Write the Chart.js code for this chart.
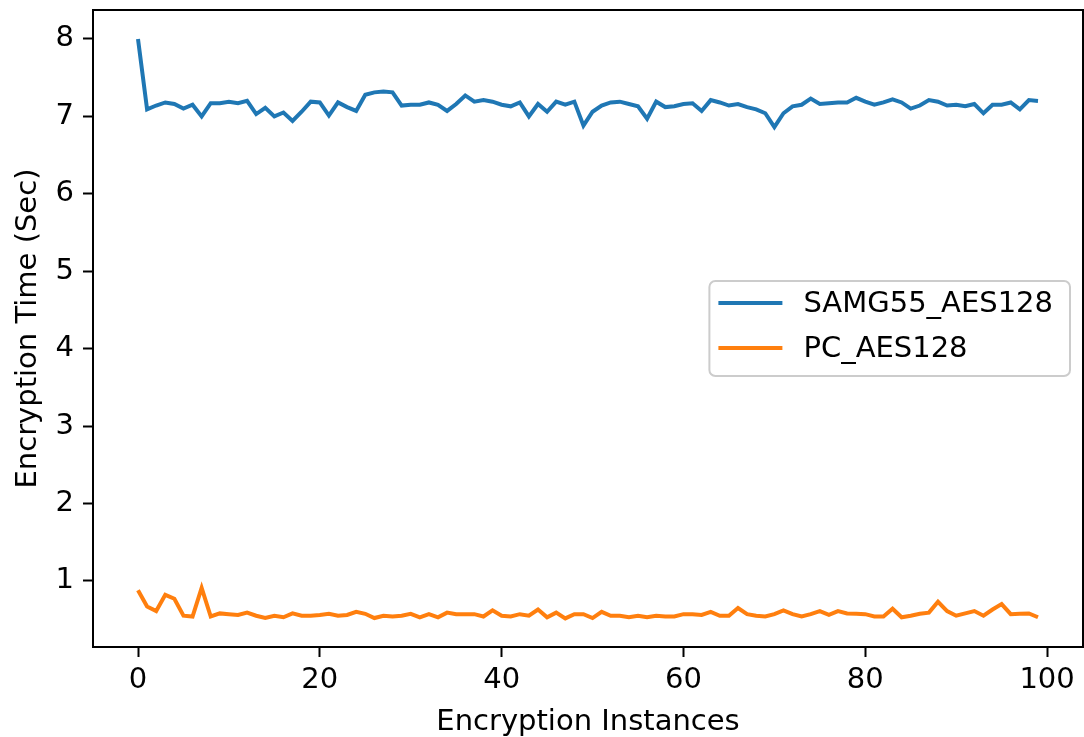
<!DOCTYPE html>
<html lang="en">
<head>
  <meta charset="UTF-8" />
  <title>Encryption Time</title>
  <script src="https://cdn.jsdelivr.net/npm/chart.js"></script>
  <style>
    body {
      margin: 0;
      background: white;
    }
    #wrap {
      width: 1084px;
      height: 737px;
    }
  </style>
</head>
<body>
  <div id="wrap"><canvas id="timeChart" width="1084" height="737"></canvas></div>

  <script>
    // encryption time per run, seconds
    const samg55Times = [
      8.00, 7.09, 7.14, 7.18, 7.16, 7.10, 7.15, 7.00, 7.17, 7.17,
      7.19, 7.17, 7.20, 7.03, 7.11, 7.00, 7.05, 6.94, 7.06, 7.19,
      7.18, 7.01, 7.18, 7.12, 7.07, 7.28, 7.31, 7.32, 7.31, 7.14,
      7.15, 7.15, 7.18, 7.15, 7.07, 7.16, 7.27, 7.19, 7.21, 7.19,
      7.15, 7.13, 7.18, 7.00, 7.16, 7.06, 7.19, 7.15, 7.19, 6.88,
      7.06, 7.14, 7.18, 7.19, 7.16, 7.13, 6.97, 7.19, 7.12, 7.13,
      7.16, 7.17, 7.07, 7.21, 7.18, 7.14, 7.16, 7.12, 7.09, 7.04,
      6.86, 7.04, 7.13, 7.15, 7.23, 7.16, 7.17, 7.18, 7.18, 7.24,
      7.19, 7.15, 7.18, 7.22, 7.18, 7.10, 7.14, 7.21, 7.19, 7.14,
      7.15, 7.13, 7.16, 7.04, 7.15, 7.15, 7.18, 7.09, 7.21, 7.20
    ];
    const pcTimes = [
      0.88, 0.67, 0.61, 0.82, 0.77, 0.55, 0.54, 0.91, 0.54, 0.58,
      0.57, 0.56, 0.59, 0.55, 0.52, 0.55, 0.53, 0.58, 0.55, 0.55,
      0.56, 0.575, 0.55, 0.56, 0.60, 0.575, 0.52, 0.55, 0.54, 0.55,
      0.575, 0.53, 0.57, 0.53, 0.59, 0.57, 0.57, 0.57, 0.54, 0.62,
      0.55, 0.54, 0.57, 0.55, 0.63, 0.53, 0.59, 0.515, 0.57, 0.57,
      0.52, 0.60, 0.55, 0.55, 0.53, 0.55, 0.53, 0.55, 0.54, 0.54,
      0.57, 0.57, 0.56, 0.60, 0.55, 0.55, 0.65, 0.57, 0.55, 0.54,
      0.57, 0.62, 0.57, 0.54, 0.57, 0.61, 0.56, 0.61, 0.58, 0.575,
      0.57, 0.54, 0.54, 0.64, 0.53, 0.55, 0.575, 0.59, 0.73, 0.61,
      0.55, 0.58, 0.61, 0.55, 0.63, 0.70, 0.57, 0.575, 0.58, 0.53
    ];
    const instances = samg55Times.map((_, i) => i);
    const xTicks = [0, 20, 40, 60, 80, 100];
    const yTicks = [1, 2, 3, 4, 5, 6, 7, 8];

    const FONT = "'DejaVu Sans', sans-serif";
    const FONT_SIZE = 29;
    const LINE_W = 4;

    // box around the plot area
    const framePlugin = {
      id: 'frame',
      afterDatasetsDraw(chart) {
        const { ctx, chartArea: a } = chart;
        ctx.save();
        ctx.strokeStyle = '#000';
        ctx.lineWidth = 2;
        ctx.strokeRect(a.left, a.top, a.right - a.left, a.bottom - a.top);
        ctx.restore();
      }
    };

    // legend drawn inside the plot, centre right
    const innerLegend = {
      id: 'innerLegend',
      afterDraw(chart) {
        const { ctx, chartArea: a } = chart;
        const sets = chart.data.datasets;
        ctx.save();
        ctx.font = FONT_SIZE + 'px ' + FONT;
        const textW = Math.max(...sets.map(d => ctx.measureText(d.label).width));
        const w = 94 + textW + 17;
        const h = 95;
        const right = a.right - 13;
        const left = right - w;
        const top = (a.top + a.bottom) / 2 - h / 2;

        ctx.beginPath();
        ctx.roundRect(left, top, w, h, 6);
        ctx.fillStyle = 'rgba(255,255,255,0.8)';
        ctx.fill();
        ctx.strokeStyle = '#cccccc';
        ctx.lineWidth = 2;
        ctx.stroke();

        sets.forEach((d, i) => {
          const y = top + 22 + i * 45;
          ctx.strokeStyle = d.borderColor;
          ctx.lineWidth = LINE_W;
          ctx.beginPath();
          ctx.moveTo(left + 9, y);
          ctx.lineTo(left + 73, y);
          ctx.stroke();
          ctx.fillStyle = '#000';
          ctx.textBaseline = 'middle';
          ctx.fillText(d.label, left + 94, y + 1);
        });
        ctx.restore();
      }
    };

    new Chart(document.getElementById('timeChart'), {
      type: 'line',
      data: {
        labels: instances,
        datasets: [
          {
            label: 'SAMG55_AES128',
            data: instances.map((x, i) => ({ x: x, y: samg55Times[i] })),
            borderColor: '#1f77b4',
            borderWidth: LINE_W,
            pointRadius: 0,
            tension: 0
          },
          {
            label: 'PC_AES128',
            data: instances.map((x, i) => ({ x: x, y: pcTimes[i] })),
            borderColor: '#ff7f0e',
            borderWidth: LINE_W,
            pointRadius: 0,
            tension: 0
          }
        ]
      },
      options: {
        responsive: false,
        animation: false,
        layout: { padding: { top: 10, right: 1, left: 0, bottom: 0 } },
        plugins: {
          legend: { display: false },
          tooltip: { enabled: false }
        },
        scales: {
          x: {
            type: 'linear',
            min: -4.95,
            max: 103.95,
            afterBuildTicks(scale) {
              scale.ticks = xTicks.map(v => ({ value: v }));
            },
            afterFit(scale) {
              scale.height = 90;
              scale.paddingLeft = 0;
              scale.paddingRight = 0;
            },
            grid: {
              drawOnChartArea: false,
              drawTicks: true,
              tickLength: 10,
              tickWidth: 2,
              tickColor: '#000'
            },
            border: { display: false },
            ticks: {
              color: '#000',
              padding: 6,
              maxRotation: 0,
              font: { family: FONT, size: FONT_SIZE }
            },
            title: {
              display: true,
              text: 'Encryption Instances',
              color: '#000',
              padding: { top: 0, bottom: -3 },
              font: { family: FONT, size: FONT_SIZE }
            }
          },
          y: {
            min: 0.146,
            max: 8.374,
            afterBuildTicks(scale) {
              scale.ticks = yTicks.map(v => ({ value: v }));
            },
            afterFit(scale) {
              scale.width = 93;
              scale.paddingTop = 0;
              scale.paddingBottom = 0;
            },
            grid: {
              drawOnChartArea: false,
              drawTicks: true,
              tickLength: 10,
              tickWidth: 2,
              tickColor: '#000'
            },
            border: { display: false },
            ticks: {
              color: '#000',
              padding: 9,
              font: { family: FONT, size: FONT_SIZE }
            },
            title: {
              display: true,
              text: 'Encryption Time (Sec)',
              color: '#000',
              padding: { top: 11, bottom: 0 },
              font: { family: FONT, size: FONT_SIZE }
            }
          }
        }
      },
      plugins: [framePlugin, innerLegend]
    });
  </script>
</body>
</html>
